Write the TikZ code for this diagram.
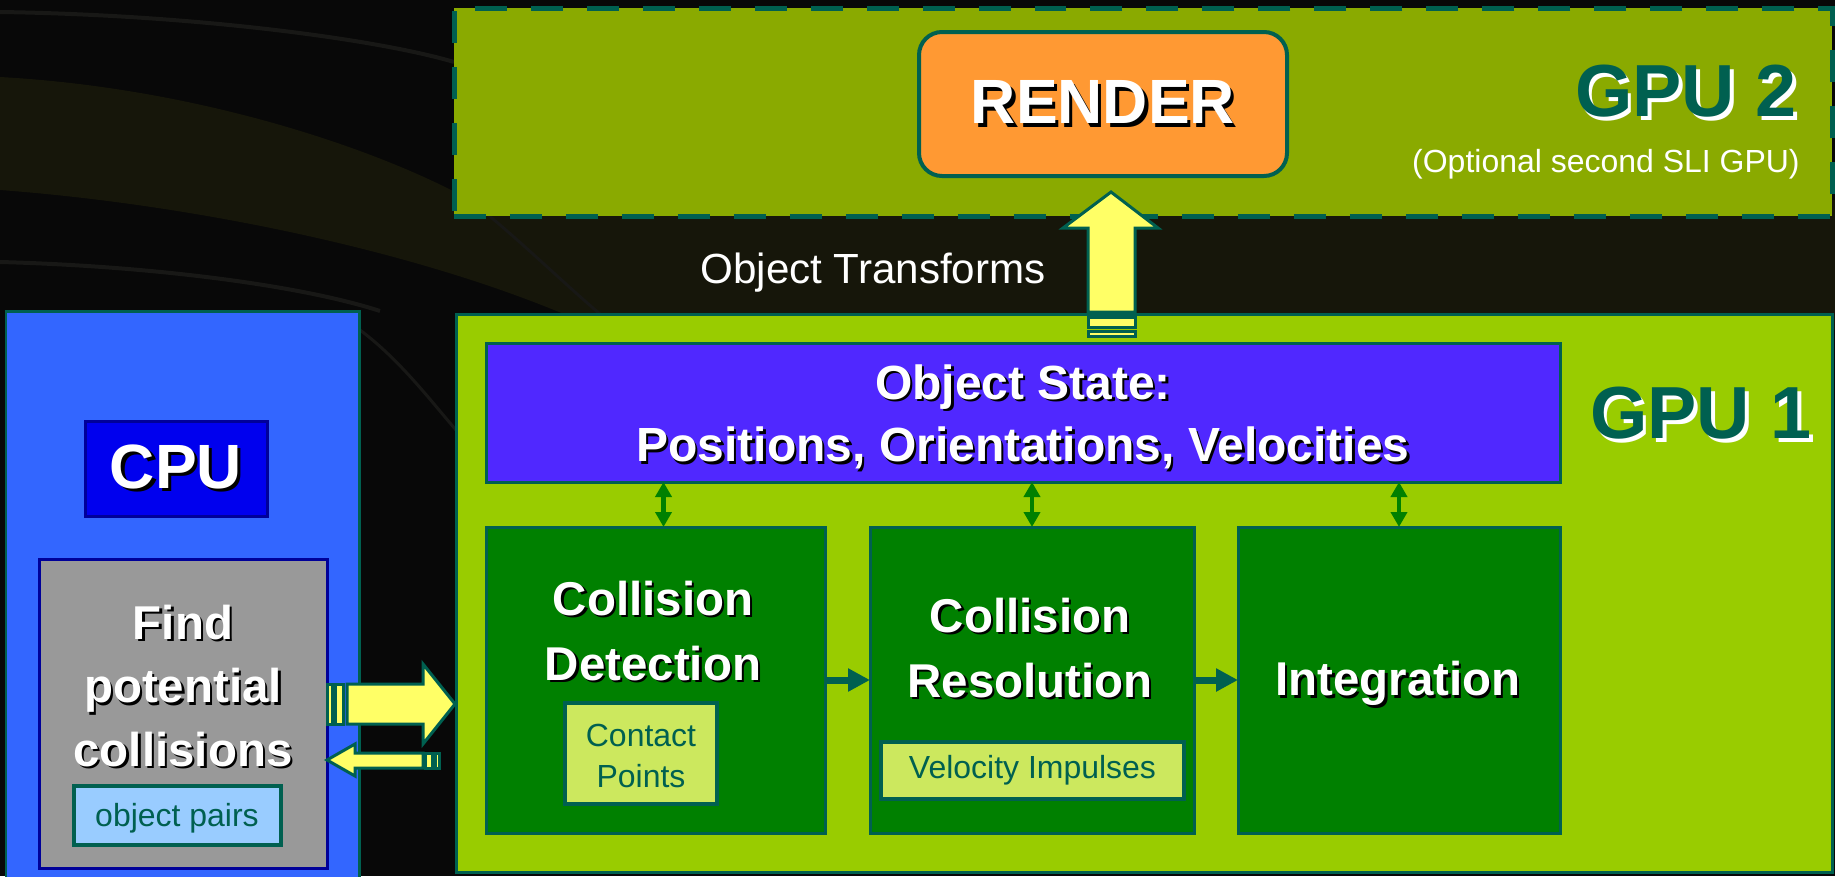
\documentclass[tikz,border=0pt]{standalone}
\usepackage{fontspec}
\setmainfont{Liberation Sans}
\usetikzlibrary{positioning, arrows.meta, calc}

\definecolor{nvteal}{RGB}{0,96,80}
\definecolor{gputwo}{RGB}{138,170,0}
\definecolor{gpuone}{RGB}{153,204,0}
\definecolor{renderor}{RGB}{255,153,51}
\definecolor{statebl}{RGB}{80,40,255}
\definecolor{boxgreen}{RGB}{0,128,0}
\definecolor{limebox}{RGB}{204,232,94}
\definecolor{cpublue}{RGB}{51,102,255}
\definecolor{cpudark}{RGB}{0,0,238}
\definecolor{cpunavy}{RGB}{0,0,153}
\definecolor{pairblue}{RGB}{153,204,255}
\definecolor{findgray}{RGB}{153,153,153}
\definecolor{arrowyel}{RGB}{255,255,102}
\definecolor{bgdark}{RGB}{8,8,8}
\definecolor{bgolive}{RGB}{22,22,10}
\definecolor{streak}{RGB}{24,24,22}

\newcommand{\px}{0.02cm}
\newcommand{\shadowtxt}[2][black]{\makebox[0pt][l]{\hspace{0.05em}\raisebox{-0.05em}{\textcolor{#1}{#2}}}#2}

\tikzset{
  box/.style={draw=nvteal, line width=0.06cm, anchor=north west, inner sep=0pt, outer sep=0pt},
  bigtxt/.style={font=\fontsize{35.6}{40}\selectfont\bfseries, text=white, inner sep=0pt},
  boldtxt/.style={font=\fontsize{27}{37}\selectfont\bfseries, text=white, align=center, inner sep=0pt},
  smalltxt/.style={font=\fontsize{18.2}{23}\selectfont, text=nvteal, align=center, inner sep=0pt},
  gputxt/.style={font=\fontsize{42}{48}\selectfont\bfseries, text=nvteal, inner sep=0pt},
  dbl/.style={{Triangle[length=0.3cm,width=0.32cm]}-{Triangle[length=0.3cm,width=0.32cm]}, draw=boxgreen, line width=0.09cm},
  flow/.style={-{Triangle[length=0.44cm,width=0.44cm]}, draw=nvteal, line width=0.14cm},
  blockarrow/.style={fill=arrowyel, draw=nvteal, line width=0.06cm, line join=miter}
}

\begin{document}
\begin{tikzpicture}[x=0.02cm, y=-0.02cm]
    \useasboundingbox (0,0) rectangle (1835,876);

    % background swoosh
    \fill[bgdark] (0,0) rectangle (1835,876);
    \fill[bgolive] (0,77) .. controls (200,88) and (380,150) .. (470,200) -- (1835,200) -- (1835,330) -- (600,330) .. controls (440,255) and (200,205) .. (0,190) -- cycle;
    \draw[streak, line width=0.08cm] (0,12) .. controls (200,15) and (380,40) .. (454,62);
    \draw[streak, line width=0.08cm] (0,262) .. controls (150,266) and (300,285) .. (380,311);
    \draw[streak, line width=0.06cm] (470,200) .. controls (520,240) and (560,280) .. (600,314);
    \draw[streak, line width=0.06cm] (360,330) .. controls (400,360) and (430,400) .. (456,430);

    % GPU 2
    \node[box, fill=gputwo, line width=0.1cm, dash pattern=on 0.64cm off 0.48cm, minimum width=1378*\px, minimum height=208*\px] (gpu2) at (454,8) {};
    \node[box, fill=renderor, line width=0.08cm, rounded corners=0.46cm, minimum width=368*\px, minimum height=144*\px] (render) at (919,32) {};
    \node[bigtxt] (rendertxt) at (render.center) {\shadowtxt{RENDER}};
    \node[gputxt, anchor=east] (gpu2txt) at (1797,93) {\shadowtxt[white]{GPU 2}};
    \node[smalltxt, text=white, anchor=east] (slitxt) at (1800,164) {(Optional second SLI GPU)};

    \node[font=\fontsize{24}{28}\selectfont, text=white, inner sep=0pt] (transtxt) at (873,273) {Object Transforms};

    % GPU 1
    \node[box, fill=gpuone, minimum width=1376*\px, minimum height=558*\px] (gpu1) at (456,314) {};
    \node[gputxt, anchor=east] (gpu1txt) at (1812,415) {\shadowtxt[white]{GPU 1}};
    \node[box, fill=statebl, minimum width=1074*\px, minimum height=139*\px] (state) at (486,343) {};
    \node[boldtxt, font=\fontsize{27.3}{35.5}\selectfont\bfseries] (statetxt) at (1023,418) {\shadowtxt{Object State:}\\\shadowtxt{Positions, Orientations, Velocities}};

    \node[box, fill=boxgreen, minimum width=339*\px, minimum height=306*\px] (cd) at (486,527) {};
    \node[box, fill=boxgreen, minimum width=324*\px, minimum height=306*\px] (cr) at (870,527) {};
    \node[box, fill=boxgreen, minimum width=322*\px, minimum height=306*\px] (integ) at (1238,527) {};

    \node[boldtxt] (cdtxt) at (653,632) {\shadowtxt{Collision}\\\shadowtxt{Detection}};
    \node[box, fill=limebox, line width=0.08cm, minimum width=152*\px, minimum height=101*\px] (contact) at (565,703) {};
    \node[smalltxt] (contacttxt) at (641,756) {Contact\\Points};

    \node[boldtxt] (crtxt) at (1030,649) {\shadowtxt{Collision}\\\shadowtxt{Resolution}};
    \node[box, fill=limebox, line width=0.08cm, minimum width=303*\px, minimum height=57*\px] (velo) at (881,742) {};
    \node[smalltxt] (velotxt) at (velo.center) {Velocity Impulses};

    \node[boldtxt] (integtxt) at (1398,685) {\shadowtxt{Integration}};

    \draw[dbl] ($(cd.north)+(8,0)$) -- ($(cd.north |- state.south)+(8,0)$);
    \draw[dbl] (cr.north) -- (cr.north |- state.south);
    \draw[dbl] (integ.north) -- (integ.north |- state.south);
    \draw[flow] (cd.east) -- (cr.west);
    \draw[flow] (cr.east) -- (integ.west);

    % CPU
    \node[box, fill=cpublue, minimum width=353*\px, minimum height=580*\px] (cpu) at (6,311) {};
    \node[box, fill=cpudark, draw=cpunavy, minimum width=182*\px, minimum height=95*\px] (cpulab) at (85,421) {};
    \node[bigtxt] (cputxt) at (cpulab.center) {\shadowtxt{CPU}};
    \node[box, fill=findgray, draw=cpunavy, minimum width=288*\px, minimum height=309*\px] (find) at (39,559) {};
    \node[boldtxt, font=\fontsize{27}{36}\selectfont\bfseries] (findtxt) at (183,687) {\shadowtxt{Find}\\\shadowtxt{potential}\\\shadowtxt{collisions}};
    \node[box, fill=pairblue, line width=0.08cm, minimum width=207*\px, minimum height=59*\px] (pairs) at (74,786) {};
    \node[smalltxt] (pairstxt) at (177,818) {object pairs};

    % block arrows
    \coordinate (uptip) at (1111,192);
    \draw[blockarrow] (uptip) -- (1158,228) -- (1135,228) -- (1135,312) -- (1088,312) -- (1088,228) -- (1063,228) -- cycle;
    \draw[blockarrow] (1088,317) rectangle (1135,327);
    \draw[blockarrow] (1088,331) rectangle (1135,336);

    \coordinate (rtip) at (455,704);
    \draw[blockarrow] (rtip) -- (423,664) -- (423,684) -- (347,684) -- (347,724) -- (423,724) -- (423,744) -- cycle;
    \draw[blockarrow] (327,684) rectangle (332,724);
    \draw[blockarrow] (335,684) rectangle (343,724);

    \coordinate (ltip) at (327,760);
    \draw[blockarrow] (ltip) -- (355,744) -- (355,753) -- (423,753) -- (423,768) -- (355,768) -- (355,776) -- cycle;
    \draw[blockarrow] (425,753) rectangle (432,768);
    \draw[blockarrow] (435,753) rectangle (439,768);
\end{tikzpicture}
\end{document}
